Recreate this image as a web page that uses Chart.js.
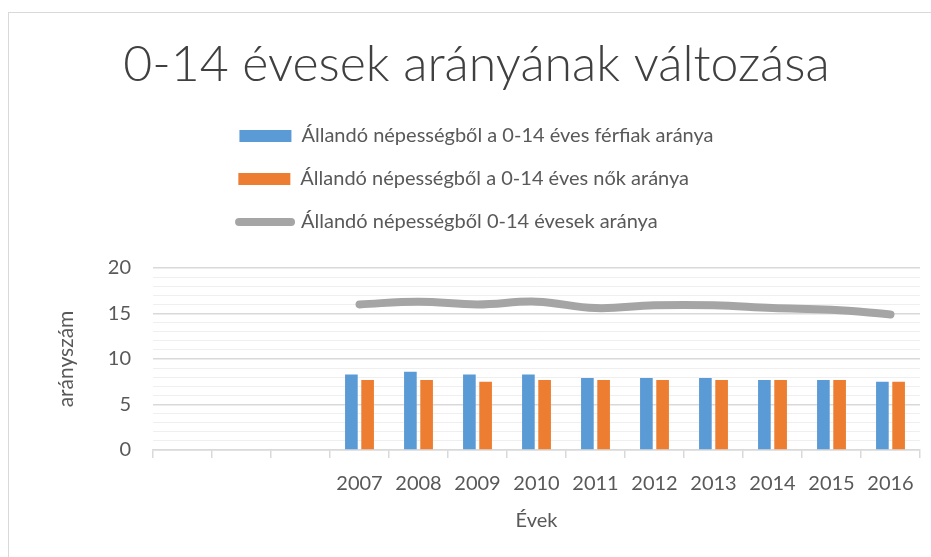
<!DOCTYPE html>
<html lang="hu">
<head>
<meta charset="utf-8">
<title>0-14 évesek arányának változása</title>
<script src="https://cdn.jsdelivr.net/npm/chart.js@4"></script>
<style>
    html, body { margin: 0; padding: 0; background: #fff; }
    #frame {
        position: absolute;
        left: 8px;
        top: 12px;
        width: 922px;
        height: 544px;
        border-left: 1px solid #d9d9d9;
        border-top: 1px solid #d9d9d9;
    }
    canvas { display: block; }
</style>
</head>
<body>
<div id="frame"><canvas id="chart" width="922" height="544"></canvas></div>
<script>
// ---------------- DATA ----------------
const emptySlots = 3;
const years = ["2007", "2008", "2009", "2010", "2011", "2012", "2013", "2014", "2015", "2016"];
const maleShare = [8.3, 8.6, 8.3, 8.3, 7.9, 7.9, 7.9, 7.7, 7.7, 7.5];
const femaleShare = [7.7, 7.7, 7.5, 7.7, 7.7, 7.7, 7.7, 7.7, 7.7, 7.5];
const totalShare = [16.0, 16.3, 16.0, 16.3, 15.6, 15.9, 15.9, 15.6, 15.4, 14.9];
const yTickLabels = [0, 5, 10, 15, 20];

const seriesNames = [
    "Állandó népességből a 0-14 éves férfiak aránya",
    "Állandó népességből a 0-14 éves nők aránya",
    "Állandó népességből 0-14 évesek aránya"
];

// ---------------- HELPERS ----------------
const pad = arr => Array(emptySlots).fill(null).concat(arr);
const labels = Array(emptySlots).fill("").concat(years);

const textColor = "#595959";
const tickFont = { family: "Lato", size: 20 };
const axisTitleFont = { family: "Lato", size: 20 };
const legendFont = { family: "Lato", size: 20 };

// push the plot area a bit below the legend
const legendGap = {
    id: "legendGap",
    beforeInit(chart) {
        const fit = chart.legend.fit;
        chart.legend.fit = function () {
            fit.bind(chart.legend)();
            this.height += 26;
        };
    }
};

// legend rows are centred one by one; pad shorter names so they line up on the left
function padNames(ctx) {
    ctx.save();
    ctx.font = `${legendFont.size}px ${legendFont.family}`;
    const widths = seriesNames.map(n => ctx.measureText(n).width);
    const longest = Math.max(...widths);
    const space = ctx.measureText("\u00a0").width;
    ctx.restore();
    return seriesNames.map((n, i) => n + "\u00a0".repeat(Math.round((longest - widths[i]) / space)));
}

// ---------------- CHART ----------------
new Chart(document.getElementById("chart"), {
    type: "bar",
    data: {
        labels: labels,
        datasets: [
            {
                label: seriesNames[0],
                data: pad(maleShare),
                backgroundColor: "#5b9bd5",
                categoryPercentage: 0.55,
                barPercentage: 0.78
            },
            {
                label: seriesNames[1],
                data: pad(femaleShare),
                backgroundColor: "#ed7d31",
                categoryPercentage: 0.55,
                barPercentage: 0.78
            },
            {
                type: "line",
                label: seriesNames[2],
                data: pad(totalShare),
                borderColor: "#a5a5a5",
                backgroundColor: "#a5a5a5",
                borderWidth: 8,
                borderCapStyle: "round",
                pointRadius: 0,
                tension: 0.4,
                fill: false
            }
        ]
    },
    options: {
        responsive: false,
        animation: false,
        layout: { padding: { left: 24, right: 11, top: 0, bottom: 0 } },
        plugins: {
            tooltip: { enabled: false },
            title: {
                display: true,
                text: "0-14 évesek arányának változása",
                color: "#404040",
                font: { family: "Lato", size: 50, weight: 300 },
                padding: { top: 22, bottom: 8 }
            },
            legend: {
                position: "top",
                labels: {
                    color: textColor,
                    font: legendFont,
                    usePointStyle: true,
                    pointStyleWidth: 52,
                    boxHeight: 12,
                    padding: 23,
                    generateLabels(chart) {
                        const items = Chart.defaults.plugins.legend.labels.generateLabels(chart);
                        const names = padNames(chart.ctx);
                        items.forEach(it => {
                            const ds = chart.data.datasets[it.datasetIndex];
                            it.text = names[it.datasetIndex];
                            if (ds.type === "line") {
                                it.pointStyle = "line";
                                it.lineWidth = 8;
                                it.lineCap = "round";
                            } else {
                                it.pointStyle = "rect";
                                it.lineWidth = 0;
                            }
                        });
                        return items;
                    }
                }
            }
        },
        scales: {
            x: {
                afterFit(s) { s.height = 107; },
                grid: {
                    offset: true,
                    drawOnChartArea: false,
                    tickLength: 8,
                    color: "#d9d9d9",
                    lineWidth: 1.5
                },
                border: { color: "#d9d9d9", width: 1.5 },
                ticks: {
                    color: textColor,
                    font: tickFont,
                    padding: 14,
                    maxRotation: 0,
                    autoSkip: false
                },
                title: {
                    display: true,
                    text: "Évek",
                    color: textColor,
                    font: axisTitleFont,
                    padding: { top: 0, bottom: 24 }
                }
            },
            y: {
                min: 0,
                max: 20,
                afterFit(s) { s.width = 120; },
                ticks: {
                    stepSize: 1,
                    autoSkip: false,
                    color: textColor,
                    font: tickFont,
                    padding: 22,
                    callback: v => yTickLabels.includes(v) ? v : ""
                },
                grid: {
                    drawTicks: false,
                    color: c => yTickLabels.includes(c.tick.value) ? "#d9d9d9" : "#efefef",
                    lineWidth: c => yTickLabels.includes(c.tick.value) ? 1.5 : 1
                },
                border: { display: false },
                title: {
                    display: true,
                    text: "arányszám",
                    color: textColor,
                    font: { family: "Lato", size: 21 },
                    padding: { top: 21, bottom: 0 }
                }
            }
        }
    },
    plugins: [legendGap]
});
</script>
</body>
</html>
